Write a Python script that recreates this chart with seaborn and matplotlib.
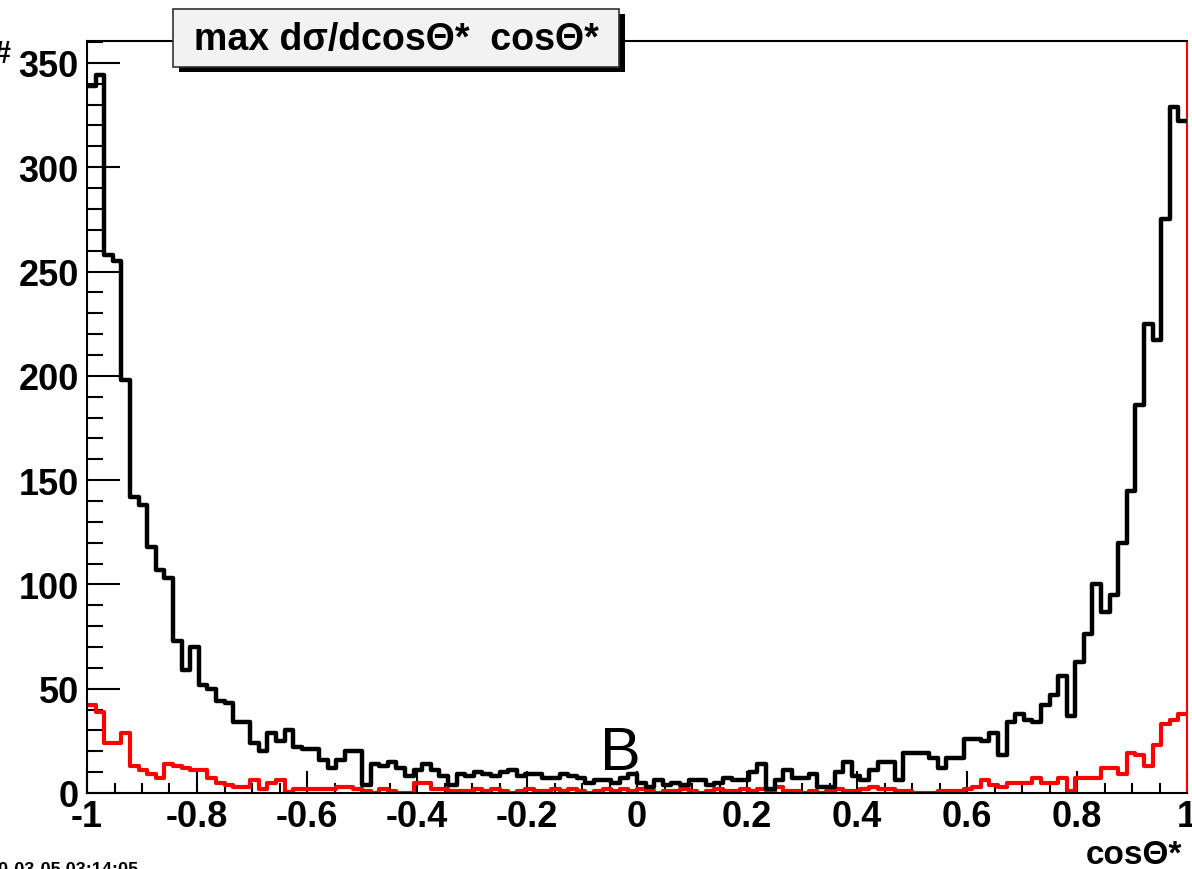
import numpy as np
import pandas as pd
import matplotlib
matplotlib.use("Agg")
import matplotlib.pyplot as plt
from matplotlib.patches import Rectangle
from matplotlib.ticker import MultipleLocator
import seaborn as sns

# ---- data: 128 bins over cos(theta*) in [-1, 1] ----
x_min, x_max, n_bins = -1.0, 1.0, 128

black_counts = [
    339, 344, 258, 255, 198, 142, 138, 118, 107, 103, 73, 59, 70, 52, 50, 44,
    43, 34, 34, 24, 20, 29, 25, 30, 22, 21, 21, 16, 12, 16, 20, 20,
    4, 14, 13, 15, 12, 8, 11, 14, 11, 8, 4, 9, 8, 10, 9, 8,
    10, 11, 8, 9, 9, 7, 7, 9, 8, 7, 5, 6, 6, 5, 7, 9,
    5, 3, 6, 4, 5, 4, 6, 6, 4, 5, 7, 6, 6, 10, 14, 2,
    6, 11, 7, 7, 9, 3, 3, 10, 15, 8, 6, 11, 15, 15, 6, 19,
    19, 19, 17, 12, 17, 17, 26, 26, 25, 29, 18, 34, 38, 35, 34, 42,
    47, 56, 37, 63, 76, 100, 87, 95, 120, 145, 186, 225, 217, 275, 329, 322,
]

red_counts = [
    42, 39, 24, 24, 29, 13, 11, 9, 7, 14, 13, 12, 11, 11, 7, 5,
    4, 3, 3, 6, 2, 5, 6, 0.5, 2, 2, 2, 2, 2, 3, 3, 2,
    1, 0, 2, 1, 0, 0, 5, 5, 2, 2, 1, 1, 1, 2, 1, 2,
    1, 0, 1, 2, 1, 1, 2, 1, 2, 1, 0, 1, 2, 1, 2, 1,
    2, 1, 0, 1, 1, 2, 1, 0, 1, 2, 1, 1, 2, 1, 2, 1,
    3, 1, 1, 0, 1, 0, 1, 2, 1, 1, 2, 3, 2, 2, 1, 1,
    0, 0, 0, 1, 1, 1, 2, 3, 6, 4, 3, 5, 5, 5, 7, 5,
    5, 7, 1, 7, 7, 7, 12, 12, 9, 19, 18, 13, 23, 33, 35, 38,
]

x_ticks = [-1, -0.8, -0.6, -0.4, -0.2, 0, 0.2, 0.4, 0.6, 0.8, 1]
x_tick_labels = ["-1", "-0.8", "-0.6", "-0.4", "-0.2", "0", "0.2", "0.4", "0.6", "0.8", "1"]
y_ticks = [0, 50, 100, 150, 200, 250, 300, 350]
y_tick_labels = ["0", "50", "100", "150", "200", "250", "300", "350"]

title_text = "max d\u03c3/dcos\u0398*  cos\u0398*"
x_title = "cos\u0398*"

# ---- build data frame ----
edges = np.linspace(x_min, x_max, n_bins + 1)
centers = 0.5 * (edges[:-1] + edges[1:])
df = pd.DataFrame({"x": centers, "black": black_counts, "red": red_counts})

sns.set_style("white")
plt.rcParams["font.family"] = ["Liberation Sans", "DejaVu Sans"]
plt.rcParams["font.weight"] = "bold"
plt.rcParams["text.color"] = "black"
plt.rcParams["xtick.color"] = "black"
plt.rcParams["ytick.color"] = "black"
plt.rcParams["xtick.labelcolor"] = "black"
plt.rcParams["ytick.labelcolor"] = "black"

fig = plt.figure(figsize=(11.92, 8.70), dpi=100)
fig.patch.set_facecolor("white")
ax = fig.add_axes([87 / 1192, 1 - 794 / 870, (1187 - 87) / 1192, (794 - 42) / 870])

sns.histplot(data=df, x="x", weights="black", bins=n_bins, binrange=(x_min, x_max),
             element="step", fill=False, color="black", linewidth=3.2, ax=ax, zorder=3)
sns.histplot(data=df, x="x", weights="red", bins=n_bins, binrange=(x_min, x_max),
             element="step", fill=False, color="#ff0000", linewidth=3.0, ax=ax, zorder=2)

ax.set_xlim(x_min, x_max)
ax.set_ylim(0, 360.5)
ax.set_xlabel("")
ax.set_ylabel("")

ax.set_xticks(x_ticks)
ax.set_xticklabels(x_tick_labels)
ax.set_yticks(y_ticks)
ax.set_yticklabels(y_tick_labels)
ax.xaxis.set_minor_locator(MultipleLocator(0.05))
ax.yaxis.set_minor_locator(MultipleLocator(10))

ax.tick_params(axis="y", which="major", direction="in", length=24, width=1.5,
               labelsize=26, pad=6, left=True, colors="black")
ax.tick_params(axis="y", which="minor", direction="in", length=11.5, width=1.5, left=True,
               colors="black")
ax.tick_params(axis="x", which="major", direction="in", length=16, width=1.5,
               labelsize=26, pad=4, bottom=True, colors="black")
ax.tick_params(axis="x", which="minor", direction="in", length=7.5, width=1.5, bottom=True,
               colors="black")
for lab in ax.get_xticklabels() + ax.get_yticklabels():
    lab.set_fontweight("bold")
    lab.set_color("black")

for side in ["left", "bottom", "top"]:
    ax.spines[side].set_color("black")
    ax.spines[side].set_linewidth(1.5)
ax.spines["right"].set_color("#ff0000")
ax.spines["right"].set_linewidth(1.5)

# ---- title box with shadow ----
bx0, by0, bx1, by1 = 173, 10, 619, 68
W, H = 1192, 870
fig.patches.append(Rectangle(((bx0 + 6) / W, 1 - (by1 + 5) / H), (bx1 - bx0) / W, (by1 - by0) / H,
                             transform=fig.transFigure, facecolor="black", edgecolor="none", zorder=1))
fig.patches.append(Rectangle((bx0 / W, 1 - by1 / H), (bx1 - bx0) / W, (by1 - by0) / H,
                             transform=fig.transFigure, facecolor="#f2f2f2", edgecolor="#333333",
                             linewidth=1.2, zorder=2))
fig.text((bx0 + bx1) / 2 / W, 1 - 40 / H, title_text, ha="center", va="center",
         fontsize=27, fontweight="bold", color="black", zorder=3)

# axis title, partial y title, date stamp, annotation
fig.text(1182 / W, 1 - 864 / H, x_title, ha="right", va="baseline", fontsize=24,
         fontweight="bold", color="black")
fig.text(-6 / W, 1 - 55 / H, "#", ha="left", va="center", fontsize=22, fontweight="bold",
         color="black")
fig.text(-2 / W, 1 - 862 / H, "0-03-05 03:14:05", ha="left", va="top", fontsize=13,
         fontweight="bold", color="black")
ax.text(-0.03, 5.5, "B", transform=ax.transData, ha="center", va="bottom",
        fontsize=44, fontweight="normal", color="black", family=["Liberation Sans", "DejaVu Sans"])

fig.savefig("out.png", dpi=100)
